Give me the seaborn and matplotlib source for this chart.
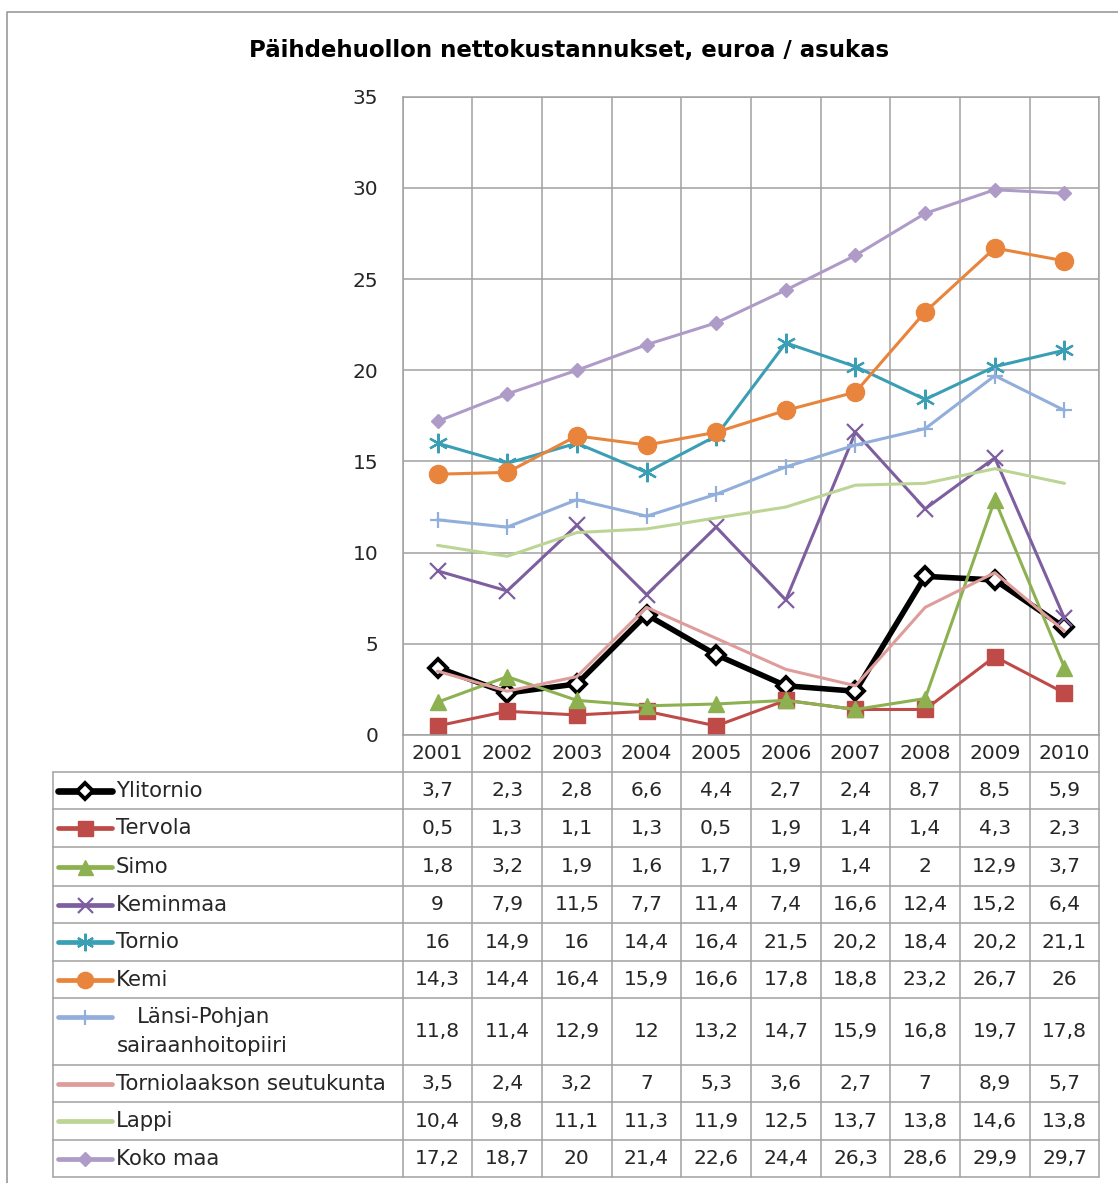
import matplotlib
matplotlib.use("Agg")
import matplotlib.pyplot as plt
import seaborn as sns
import numpy as np

# data (euroa / asukas)
years = [2001, 2002, 2003, 2004, 2005, 2006, 2007, 2008, 2009, 2010]
series_names = ["Ylitornio", "Tervola", "Simo", "Keminmaa", "Tornio", "Kemi",
                "Länsi-Pohjan sairaanhoitopiiri", "Torniolaakson seutukunta",
                "Lappi", "Koko maa"]
ylitornio = [3.7, 2.3, 2.8, 6.6, 4.4, 2.7, 2.4, 8.7, 8.5, 5.9]
tervola = [0.5, 1.3, 1.1, 1.3, 0.5, 1.9, 1.4, 1.4, 4.3, 2.3]
simo = [1.8, 3.2, 1.9, 1.6, 1.7, 1.9, 1.4, 2, 12.9, 3.7]
keminmaa = [9, 7.9, 11.5, 7.7, 11.4, 7.4, 16.6, 12.4, 15.2, 6.4]
tornio = [16, 14.9, 16, 14.4, 16.4, 21.5, 20.2, 18.4, 20.2, 21.1]
kemi = [14.3, 14.4, 16.4, 15.9, 16.6, 17.8, 18.8, 23.2, 26.7, 26]
lansi_pohja = [11.8, 11.4, 12.9, 12, 13.2, 14.7, 15.9, 16.8, 19.7, 17.8]
torniolaakso = [3.5, 2.4, 3.2, 7, 5.3, 3.6, 2.7, 7, 8.9, 5.7]
lappi = [10.4, 9.8, 11.1, 11.3, 11.9, 12.5, 13.7, 13.8, 14.6, 13.8]
koko_maa = [17.2, 18.7, 20, 21.4, 22.6, 24.4, 26.3, 28.6, 29.9, 29.7]
all_values = [ylitornio, tervola, simo, keminmaa, tornio, kemi,
              lansi_pohja, torniolaakso, lappi, koko_maa]

# styles
styles = [
    dict(color="black", lw=4.0, marker="D", ms=9, mfc="white", mec="black", mew=2.8),
    dict(color="#BE4B48", lw=2.2, marker="s", ms=12, mfc="#BE4B48", mec="#BE4B48", mew=1),
    dict(color="#8DB150", lw=2.2, marker="^", ms=12, mfc="#8DB150", mec="#8DB150", mew=1),
    dict(color="#7D5FA0", lw=2.2, marker="x", ms=12, mfc="#7D5FA0", mec="#7D5FA0", mew=1.6),
    dict(color="#3A9EB5", lw=2.2, marker=(6, 2, 0), ms=14, mfc="#3A9EB5", mec="#3A9EB5", mew=1.6),
    dict(color="#E8843C", lw=2.2, marker="o", ms=13, mfc="#E8843C", mec="#E8843C", mew=1),
    dict(color="#92AEDA", lw=2.2, marker="+", ms=12, mfc="#92AEDA", mec="#92AEDA", mew=1.6),
    dict(color="#DE9C9A", lw=2.2, marker=None, ms=0, mfc="none", mec="none", mew=0),
    dict(color="#BCD595", lw=2.2, marker=None, ms=0, mfc="none", mec="none", mew=0),
    dict(color="#AE9BC8", lw=2.2, marker="D", ms=7.5, mfc="#AE9BC8", mec="#AE9BC8", mew=1),
]

W, H = 1118, 1183
txt = "#262626"
grid_c = "#A0A0A0"
num_fs = 14.5
lab_fs = 15.3

sns.set_style("white")
plt.rcParams["font.family"] = ["DejaVu Sans"]

fig = plt.figure(figsize=(W / 100, H / 100), dpi=100)

plot_l, plot_r = 402.7, 1099.3
plot_t, plot_b = 96.7, 735.0
ax = fig.add_axes([plot_l / W, 1 - plot_b / H, (plot_r - plot_l) / W, (plot_b - plot_t) / H], zorder=2)
ax.patch.set_visible(False)

xpos = np.arange(len(years))
for vals, st in zip(all_values, styles):
    sns.lineplot(x=xpos, y=vals, ax=ax, color=st["color"], linewidth=st["lw"],
                 marker=st["marker"], markersize=st["ms"], markerfacecolor=st["mfc"],
                 markeredgecolor=st["mec"], markeredgewidth=st["mew"], clip_on=False)

ax.set_xlim(-0.5, len(years) - 0.5)
ax.set_ylim(0, 35)
ax.set_yticks(np.arange(0, 36, 5))
ax.set_xticks([])
ax.set_xticks(np.arange(-0.5, len(years), 1), minor=True)
ax.grid(axis="y", which="major", color=grid_c, lw=1.1)
ax.grid(axis="x", which="minor", color=grid_c, lw=1.1)
ax.tick_params(axis="y", length=0, pad=17.5, labelsize=num_fs, labelcolor=txt)
ax.tick_params(axis="x", which="both", length=0)
for s in ax.spines.values():
    s.set_color(grid_c)
    s.set_linewidth(1.1)
ax.set_xlabel("")
ax.set_ylabel("")

# table below the chart, in pixel coordinates
axt = fig.add_axes([0, 0, 1, 1], zorder=1)
axt.set_xlim(0, W)
axt.set_ylim(H, 0)
axt.axis("off")

# outer frame
axt.plot([7, 7, W], [H, 12, 12], color="#9A9A9A", lw=1.2)

table_l = 52.5
row_edges = [735, 771.7, 809.3, 847.3, 885.7, 923.3, 961, 998.3, 1065, 1102.3, 1140, 1177.3]
col_w = (plot_r - plot_l) / len(years)

for y in row_edges[1:]:
    axt.plot([table_l, plot_r], [y, y], color=grid_c, lw=1.1)
axt.plot([table_l, table_l], [row_edges[1], row_edges[-1]], color=grid_c, lw=1.1)
for k in range(len(years) + 1):
    x = plot_l + k * col_w
    axt.plot([x, x], [row_edges[0], row_edges[-1]], color=grid_c, lw=1.1)

# year row
yc = (row_edges[0] + row_edges[1]) / 2
for j, yr in enumerate(years):
    axt.text(plot_l + (j + 0.5) * col_w, yc, str(yr), ha="center", va="center",
             fontsize=num_fs, color=txt)

for i, (name, vals, st) in enumerate(zip(series_names, all_values, styles)):
    y0, y1 = row_edges[i + 1], row_edges[i + 2]
    yc = (y0 + y1) / 2
    ys = yc
    if name.startswith("Länsi"):
        ys = y0 + 18.5
        axt.text(137, ys, "Länsi-Pohjan", ha="left", va="center", fontsize=lab_fs, color=txt)
        axt.text(117, ys + 29, "sairaanhoitopiiri", ha="left", va="center", fontsize=lab_fs, color=txt)
    else:
        axt.text(116, yc, name, ha="left", va="center", fontsize=lab_fs, color=txt)
    lw = st["lw"] + (1.2 if st["lw"] < 3 else 0.8)
    axt.plot([58, 85, 112], [ys, ys, ys], color=st["color"], lw=lw,
             marker=st["marker"], markevery=[1], markersize=st["ms"] * 0.9,
             markerfacecolor=st["mfc"], markeredgecolor=st["mec"],
             markeredgewidth=st["mew"], solid_capstyle="round")
    for j, v in enumerate(vals):
        axt.text(plot_l + (j + 0.5) * col_w, yc, f"{v:g}".replace(".", ","),
                 ha="center", va="center", fontsize=num_fs, color=txt)

fig.text(569 / W, 1 - 50 / H, "Päihdehuollon nettokustannukset, euroa / asukas",
         ha="center", va="center", fontsize=16.5, fontweight="bold", color="black")

fig.savefig("out.png", dpi=100)
